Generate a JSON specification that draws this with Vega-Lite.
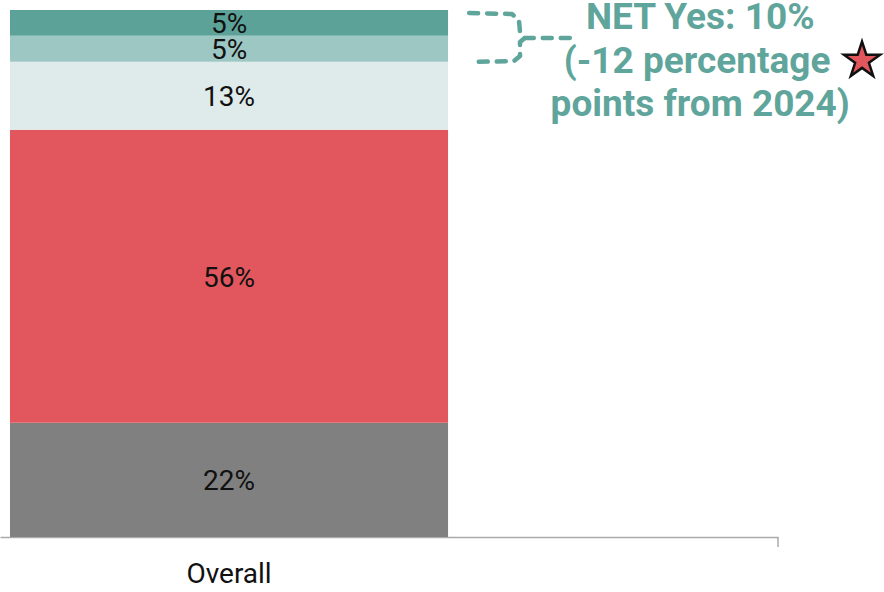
{
  "$schema": "https://vega.github.io/schema/vega-lite/v6.json",
  "width": 778,
  "height": 527,
  "autosize": {"type": "none"},
  "padding": {"left": 0, "top": 10, "right": 106, "bottom": 55},
  "background": "white",
  "config": {"view": {"stroke": null}, "font": "Roboto"},
  "datasets": {
    "bars": [
      {"group": "Overall", "answer": "Don't know", "order": 1, "value": 0.217},
      {"group": "Overall", "answer": "No", "order": 2, "value": 0.556},
      {"group": "Overall", "answer": "Neutral", "order": 3, "value": 0.129},
      {"group": "Overall", "answer": "Yes, somewhat", "order": 4, "value": 0.049},
      {"group": "Overall", "answer": "Yes, definitely", "order": 5, "value": 0.049}
    ],
    "bracket": [
      {"seg": "a", "i": 1, "x": 60.3, "y": 0.9943},
      {"seg": "a", "i": 2, "x": 65.8, "y": 0.9924},
      {"seg": "a", "i": 3, "x": 66.7, "y": 0.981},
      {"seg": "a", "i": 4, "x": 66.84, "y": 0.9583},
      {"seg": "a", "i": 5, "x": 67.45, "y": 0.9469},
      {"seg": "a", "i": 6, "x": 66.84, "y": 0.9393},
      {"seg": "a", "i": 7, "x": 66.84, "y": 0.9127},
      {"seg": "a", "i": 8, "x": 66.07, "y": 0.9032},
      {"seg": "a", "i": 9, "x": 60.4, "y": 0.9013},
      {"seg": "b", "i": 1, "x": 67.45, "y": 0.9469},
      {"seg": "b", "i": 2, "x": 73.4, "y": 0.9469}
    ],
    "note": [
      {"line": "NET Yes: 10%", "x": 90, "y": 0.985},
      {"line": "(-12 percentage", "x": 89.6, "y": 0.9013},
      {"line": "points from 2024)", "x": 90, "y": 0.8197}
    ],
    "star": [{"x": 110.8, "y": 0.904}],
    "tick": [{"x": 100, "y": 0, "y2": -0.019}]
  },
  "layer": [
    {
      "data": {"name": "bars"},
      "mark": {"type": "bar"},
      "encoding": {
        "x": {"field": "group", "type": "nominal",
              "scale": {"type": "band", "paddingInner": 0, "paddingOuter": 0.388, "align": 0.0294},
              "axis": {"title": null, "labelAngle": 0, "labelFontSize": 28, "labelColor": "#111", "labelPadding": 23, "ticks": false, "domainColor": "#aaaaaa", "domainWidth": 1.5, "labelFont": "Roboto"}},
        "y": {"field": "value", "type": "quantitative", "stack": "zero",
              "scale": {"domain": [0, 1], "nice": false}, "axis": null},
        "order": {"field": "order", "type": "quantitative"},
        "color": {"field": "answer", "type": "nominal", "legend": null,
                  "scale": {"domain": ["Don't know", "No", "Neutral", "Yes, somewhat", "Yes, definitely"],
                            "range": ["#808080", "#E2575D", "#DFEBEB", "#9DC7C2", "#5DA299"]}}
      }
    },
    {
      "data": {"name": "bars"},
      "transform": [
        {"stack": "value", "groupby": ["group"], "sort": [{"field": "order", "order": "ascending"}], "as": ["v0", "v1"]},
        {"calculate": "(datum.v0 + datum.v1) / 2", "as": "mid"}
      ],
      "mark": {"type": "text", "fontSize": 28, "color": "#111", "baseline": "middle", "align": "center", "dy": 2.5, "font": "Roboto"},
      "encoding": {
        "x": {"field": "group", "type": "nominal", "bandPosition": 0.5, "scale": {"type": "band", "paddingInner": 0, "paddingOuter": 0.388, "align": 0.0294}, "axis": null},
        "y": {"field": "mid", "type": "quantitative"},
        "text": {"field": "value", "type": "quantitative", "format": ".0%"}
      }
    },
    {
      "data": {"name": "bracket"},
      "mark": {"type": "line", "color": "#5FA59B", "strokeWidth": 4.5, "strokeDash": [9, 9], "strokeCap": "round", "strokeJoin": "round", "clip": false},
      "encoding": {
        "x": {"field": "x", "type": "quantitative", "scale": {"domain": [0, 100], "nice": false}, "axis": null},
        "y": {"field": "y", "type": "quantitative"},
        "detail": {"field": "seg", "type": "nominal"},
        "order": {"field": "i", "type": "quantitative"}
      }
    },
    {
      "data": {"name": "note"},
      "mark": {"type": "text", "fontSize": 37, "fontWeight": "bold", "color": "#5FA59B", "baseline": "middle", "align": "center", "font": "Roboto"},
      "encoding": {
        "x": {"field": "x", "type": "quantitative", "scale": {"domain": [0, 100], "nice": false}, "axis": null},
        "y": {"field": "y", "type": "quantitative"},
        "text": {"field": "line", "type": "nominal"}
      }
    },
    {
      "data": {"name": "star"},
      "mark": {"type": "point", "shape": "M0,-1L0.2245,-0.309L0.951,-0.309L0.363,0.118L0.588,0.809L0,0.382L-0.588,0.809L-0.363,0.118L-0.951,-0.309L-0.2245,-0.309Z", "size": 1450, "filled": true, "fill": "#E2575D", "stroke": "#111", "strokeWidth": 2.5, "strokeJoin": "miter", "opacity": 1, "clip": false},
      "encoding": {
        "x": {"field": "x", "type": "quantitative", "scale": {"domain": [0, 100], "nice": false}, "axis": null},
        "y": {"field": "y", "type": "quantitative"}
      }
    },
    {
      "data": {"name": "tick"},
      "mark": {"type": "rule", "color": "#aaaaaa", "strokeWidth": 1.5, "clip": false},
      "encoding": {
        "x": {"field": "x", "type": "quantitative", "scale": {"domain": [0, 100], "nice": false}, "axis": null},
        "y": {"field": "y", "type": "quantitative"},
        "y2": {"field": "y2"}
      }
    }
  ],
  "resolve": {"scale": {"x": "independent"}}
}
